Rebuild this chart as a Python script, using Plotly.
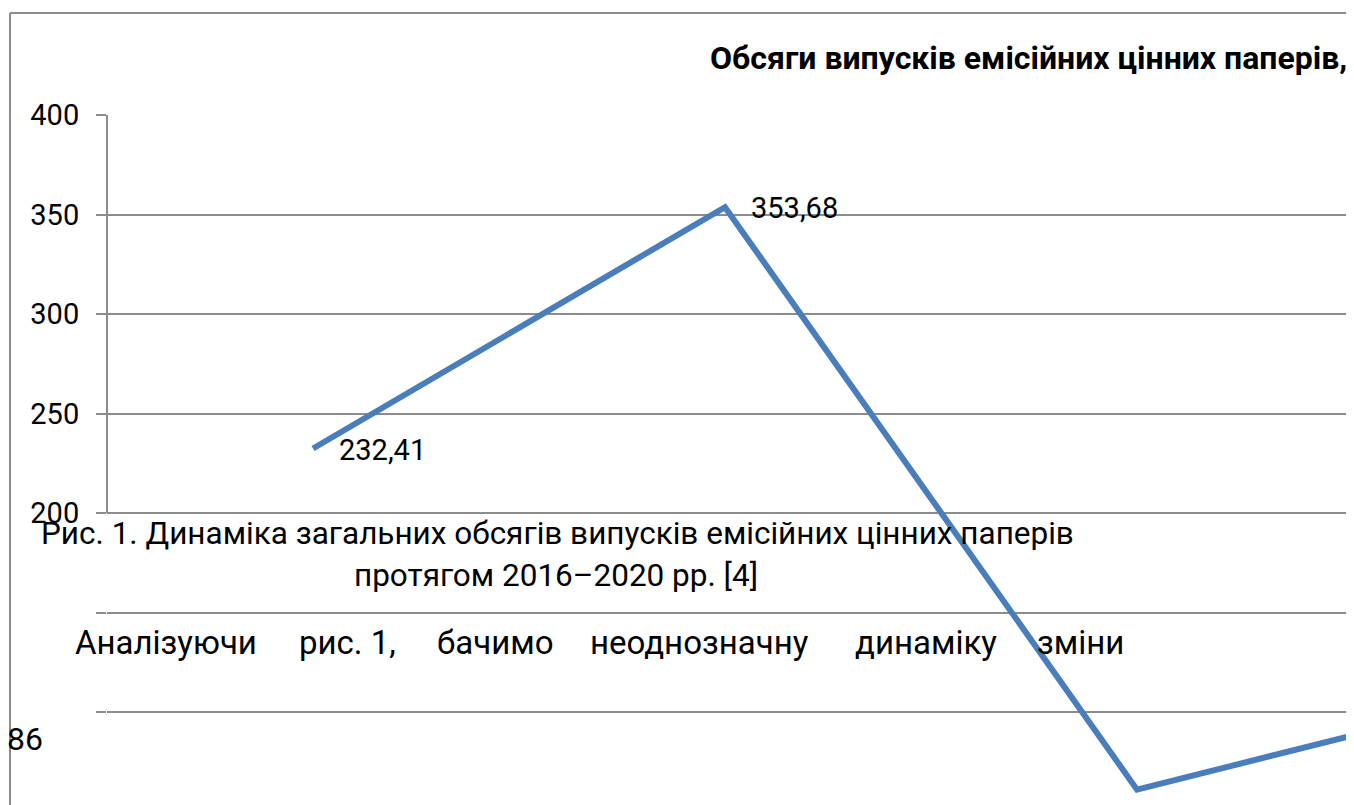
import plotly.graph_objects as go

# Data
years = ["2016", "2017", "2018", "2019"]
values = [232.41, 353.68, 61.0, 113.0]
labelled = [0, 1]  # indices whose data labels are visible
y_ticks = [100, 150, 200, 250, 300, 350, 400]
y_ticktext = ["", "", "200", "250", "300", "350", "400"]

title_text = "Обсяги випусків емісійних цінних паперів,"
caption_1 = "Рис. 1. Динаміка загальних обсягів випусків емісійних цінних паперів"
caption_2 = "протягом 2016–2020 рр. [4]"
para_words = ["Аналізуючи", "рис. 1,", "бачимо", "неоднозначну", "динаміку", "зміни"]
page_number = "86"

W, H = 1354, 805
OFF = 8  # browser body margin
ML, MT, MR, MB = 107 - OFF, 115 - OFF, OFF, OFF
PW, PH = W - ML - MR, H - MT - MB

def px(x):
    return (x - OFF - ML) / PW

def py(y):
    return (H - MB - (y - OFF)) / PH

FONT = "Roboto"
GRID = "#8c8c8c"
LINE = "#4a7ebb"

x_idx = list(range(len(years)))

fig = go.Figure()
fig.add_trace(go.Scatter(
    x=x_idx, y=values, mode="lines",
    line=dict(color=LINE, width=6),
    hoverinfo="skip", showlegend=False,
))

annotations = []
for i in labelled:
    annotations.append(dict(
        x=x_idx[i], y=values[i], xref="x", yref="y",
        text=f"{values[i]:.2f}".replace(".", ","),
        showarrow=False, xanchor="left", yanchor="middle", xshift=24, yshift=-1,
        font=dict(family=FONT, size=29, color="black"),
    ))

annotations.append(dict(
    x=px(708), y=py(58), xref="paper", yref="paper", text="<b>" + title_text + "</b>",
    showarrow=False, xanchor="left", yanchor="middle",
    font=dict(family=FONT, size=32, color="black"),
))
annotations.append(dict(
    x=px(557), y=py(533), xref="paper", yref="paper", text=caption_1,
    showarrow=False, xanchor="center", yanchor="middle",
    font=dict(family=FONT, size=31.5, color="black"),
))
annotations.append(dict(
    x=px(556), y=py(575), xref="paper", yref="paper", text=caption_2,
    showarrow=False, xanchor="center", yanchor="middle",
    font=dict(family=FONT, size=31.5, color="black"),
))
word_x = [73, 297, 435, 588, 853, 1035]
for wx, w in zip(word_x, para_words):
    annotations.append(dict(
        x=px(wx), y=py(642), xref="paper", yref="paper", text=w,
        showarrow=False, xanchor="left", yanchor="middle",
        font=dict(family=FONT, size=33, color="black"),
    ))
annotations.append(dict(
    x=px(5), y=py(739), xref="paper", yref="paper", text=page_number,
    showarrow=False, xanchor="left", yanchor="middle",
    font=dict(family=FONT, size=32, color="black"),
))

shapes = [
    # outer chart border (top and left visible)
    dict(type="line", xref="paper", yref="paper", x0=px(10), x1=px(W + 10), y0=py(13), y1=py(13),
         line=dict(color=GRID, width=2)),
    dict(type="line", xref="paper", yref="paper", x0=px(10), x1=px(10), y0=py(13), y1=py(H + 10),
         line=dict(color=GRID, width=2)),
    # vertical axis line spanning the labelled range
    dict(type="line", xref="paper", yref="y", x0=0, x1=0, y0=200, y1=400,
         line=dict(color=GRID, width=2)),
]

fig.update_layout(
    width=W, height=H,
    margin=dict(l=ML, r=MR, t=MT, b=MB, pad=0),
    paper_bgcolor="white", plot_bgcolor="white",
    xaxis=dict(range=[-0.5, -0.5 + PW / 412.0], showgrid=False, zeroline=False,
               showticklabels=False, ticks="", showline=False, fixedrange=True),
    yaxis=dict(range=[400 - PH / 1.99, 400], tickvals=y_ticks, ticktext=y_ticktext,
               showgrid=True, gridcolor=GRID, gridwidth=2, zeroline=False,
               showline=False, ticks="outside", ticklen=10, tickcolor=GRID, tickwidth=2,
               ticklabelstandoff=11,
               tickfont=dict(family=FONT, size=29, color="black"), fixedrange=True),
    annotations=annotations,
    shapes=shapes,
    showlegend=False,
)

fig.write_html("out.html")
